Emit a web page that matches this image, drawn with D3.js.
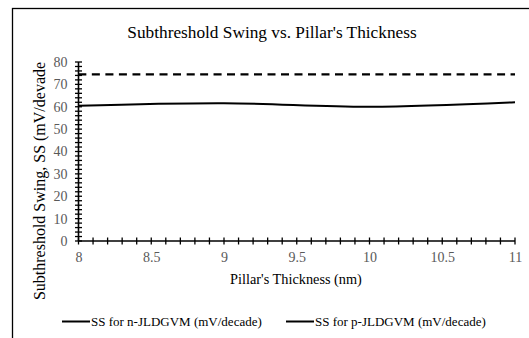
<!DOCTYPE html>
<html>
<head>
<meta charset="utf-8">
<script src="https://cdn.jsdelivr.net/npm/d3@7"></script>
<style>
  body { margin: 0; background: #fff; }
  svg { display: block; }
  svg text { font-family: "Liberation Serif", "Times New Roman", serif !important; }
</style>
</head>
<body>
<svg id="chart" width="529" height="338"></svg>
<script>
// Pillar thickness (nm) and subthreshold swing values (mV/decade)
const thickness = [8, 9, 10, 11];
const ssN = [60.5, 61.6, 60.0, 62.0];
const ssP = [74.5, 74.5, 74.5, 74.5];
const xTicks = [8, 8.5, 9, 9.5, 10, 10.5, 11];
const yTicks = [0, 10, 20, 30, 40, 50, 60, 70, 80];
const legendLabels = ["SS for n-JLDGVM (mV/decade)", "SS for p-JLDGVM (mV/decade)"];

const serif = "'Liberation Serif', 'Times New Roman', serif";
const svg = d3.select("#chart").style("font-family", serif);

// outer frame (runs past the visible window on right and bottom)
svg.append("rect")
  .attr("x", 12.5).attr("y", 8.5)
  .attr("width", 540).attr("height", 360)
  .attr("fill", "none").attr("stroke", "#000").attr("stroke-width", 1.3);

const x = d3.scaleLinear().domain([8, 11]).range([78.5, 515]);
const y = d3.scaleLinear().domain([0, 80]).range([241, 62]);

// title
svg.append("text")
  .attr("x", 272).attr("y", 38)
  .attr("text-anchor", "middle")
  .style("font-size", "17.3px")
  .style("fill", "#000")
  .text("Subthreshold Swing vs. Pillar's  Thickness");

// minor ticks (crossing the axis lines)
const xMinor = d3.range(80, 111).map(d => d / 10);
const yMinor = d3.range(0, 82, 2);

const axisG = svg.append("g");
axisG.selectAll(".xm").data(xMinor).join("line")
  .attr("x1", d => x(d)).attr("x2", d => x(d))
  .attr("y1", y(0) - 3.5).attr("y2", y(0) + 3.5)
  .attr("stroke", "#000").attr("stroke-width", 1.3);
axisG.selectAll(".ym").data(yMinor).join("line")
  .attr("x1", x(8) - 3.5).attr("x2", x(8) + 3.5)
  .attr("y1", d => y(d)).attr("y2", d => y(d))
  .attr("stroke", "#000").attr("stroke-width", 1.3);

// axis lines
axisG.append("line")
  .attr("x1", x(8)).attr("x2", x(11)).attr("y1", y(0)).attr("y2", y(0))
  .attr("stroke", "#000").attr("stroke-width", 1.6);
axisG.append("line")
  .attr("x1", x(8)).attr("x2", x(8)).attr("y1", y(0)).attr("y2", y(80))
  .attr("stroke", "#000").attr("stroke-width", 1.6);

// tick labels via d3 axes (lines hidden, labels kept)
const xAxis = svg.append("g")
  .attr("transform", `translate(0,${y(0)})`)
  .call(d3.axisBottom(x).tickValues(xTicks).tickFormat(d3.format("")).tickSize(0).tickPadding(11));
const yAxis = svg.append("g")
  .attr("transform", `translate(${x(8)},0)`)
  .call(d3.axisLeft(y).tickValues(yTicks).tickSize(0).tickPadding(11));
[xAxis, yAxis].forEach(g => {
  g.attr("font-family", null).attr("font-size", null);
  g.select(".domain").remove();
  g.selectAll("text")
    .style("font-family", serif)
    .style("font-size", "14px")
    .style("fill", "#595959");
});

// axis titles
svg.append("text")
  .attr("x", 296).attr("y", 284)
  .attr("text-anchor", "middle")
  .style("font-size", "14.3px")
  .style("fill", "#000")
  .text("Pillar's Thickness  (nm)");
svg.append("text")
  .attr("transform", `translate(45,${181}) rotate(-90)`)
  .attr("text-anchor", "middle")
  .style("font-size", "16px")
  .style("fill", "#000")
  .text("Subthreshold Swing, SS (mV/devade");

// series
const line = d3.line()
  .x((d, i) => x(thickness[i]))
  .y(d => y(d))
  .curve(d3.curveCatmullRom.alpha(0.5));

svg.append("path")
  .attr("d", line(ssN))
  .attr("fill", "none").attr("stroke", "#000").attr("stroke-width", 2);
svg.append("path")
  .attr("d", line(ssP))
  .attr("fill", "none").attr("stroke", "#000").attr("stroke-width", 2.2)
  .attr("stroke-dasharray", "8,5.5");

// legend
const legendX = [62, 286];
legendLabels.forEach((lbl, i) => {
  svg.append("line")
    .attr("x1", legendX[i]).attr("x2", legendX[i] + 28)
    .attr("y1", 321.5).attr("y2", 321.5)
    .attr("stroke", "#000").attr("stroke-width", 2);
  svg.append("text")
    .attr("x", legendX[i] + 29).attr("y", 326)
    .style("font-size", "13px")
    .style("fill", "#000")
    .text(lbl);
});
</script>
</body>
</html>
